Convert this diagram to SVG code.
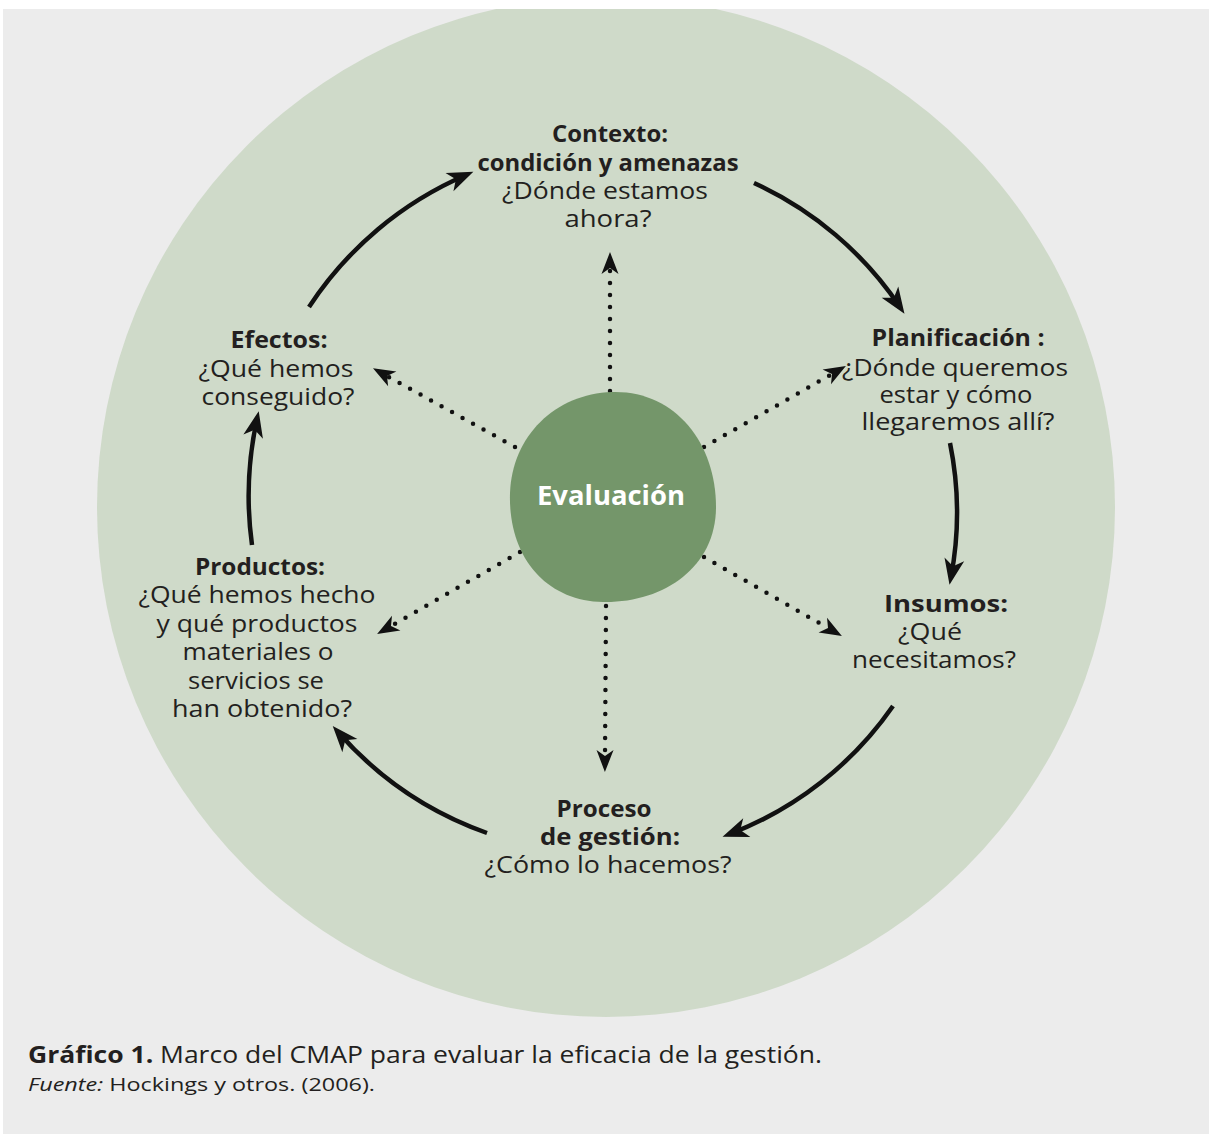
<svg xmlns="http://www.w3.org/2000/svg" width="1209" height="1134" viewBox="0 0 1209 1134">
<defs>
<style>
text{font-family:"Open Sans","Noto Sans","Liberation Sans",sans-serif;fill:#231f20;text-anchor:middle}
.b{font-weight:bold}
.t{font-size:23px}
.solid{fill:none;stroke:#111;stroke-width:4.5;marker-end:url(#ah)}
.dot{fill:none;stroke:#111;stroke-width:4.5;stroke-linecap:round;stroke-dasharray:0 12;marker-end:url(#ah2)}
.cap{text-anchor:start}
</style>
<marker id="ah" viewBox="-2 -12 30 24" markerWidth="30" markerHeight="24" refX="18" refY="0" orient="auto" markerUnits="userSpaceOnUse">
<path d="M0,-10 L26,0 L0,10 L7,0 Z" fill="#111"/>
</marker>
<marker id="ah2" viewBox="-2 -10 26 20" markerWidth="26" markerHeight="20" refX="6" refY="0" orient="auto" markerUnits="userSpaceOnUse">
<path d="M0,-8.5 L22,0 L0,8.5 L6,0 Z" fill="#111"/>
</marker>
<clipPath id="clipTop"><rect x="0" y="9" width="1209" height="1125"/></clipPath>
</defs>
<rect x="0" y="0" width="1209" height="1134" fill="#ffffff"/>
<rect x="3" y="9" width="1206" height="1125" fill="#ececec"/>
<g id="outer-circle">
<ellipse cx="606" cy="507" rx="509" ry="510" fill="#cfdac9" clip-path="url(#clipTop)"/>
</g>

<g id="connectors">
<path class="solid" d="M 309,307 A 356 356 0 0 1 466,175"/>
<path class="solid" d="M 754,183 A 352 352 0 0 1 900,307"/>
<path class="solid" d="M 950,443 A 348 348 0 0 1 951,577"/>
<path class="solid" d="M 893,706 A 352 352 0 0 1 730,834"/>
<path class="solid" d="M 487,833 A 357 357 0 0 1 338,732"/>
<path class="solid" d="M 252,545 A 360 360 0 0 1 257,419"/>
<path class="dot" d="M 610,391 L 610,268"/>
<path class="dot" d="M 606,606 L 605,756"/>
<path class="dot" d="M 515,447 L 387,376"/>
<path class="dot" d="M 704,447 L 832,374"/>
<path class="dot" d="M 520,552 L 391,626"/>
<path class="dot" d="M 704,557 L 828,628"/>
</g>

<g id="evaluacion">
<path d="M 612,392 C 674,390 716,442 716,507 C 716,567 664,603 603,602 C 545,601 508,556 510,493 C 512,436 555,394 612,392 Z" fill="#74966a"/>
<text x="611" y="505" class="b" style="font-size:26px;fill:#ffffff" textLength="148" lengthAdjust="spacingAndGlyphs">Evaluación</text>
</g>

<g id="contexto">
<text x="610" y="142" class="b t" textLength="116" lengthAdjust="spacingAndGlyphs">Contexto:</text>
<text x="608" y="171" class="b t" textLength="261" lengthAdjust="spacingAndGlyphs">condición y amenazas</text>
<text x="605" y="199" class="t" textLength="206" lengthAdjust="spacingAndGlyphs">¿Dónde estamos</text>
<text x="608" y="227" class="t" textLength="87" lengthAdjust="spacingAndGlyphs">ahora?</text>
</g>

<g id="planificacion">
<text x="958" y="346" class="b t" textLength="173" lengthAdjust="spacingAndGlyphs">Planificación :</text>
<text x="955" y="376" class="t" textLength="226" lengthAdjust="spacingAndGlyphs">¿Dónde queremos</text>
<text x="956" y="403" class="t" textLength="153" lengthAdjust="spacingAndGlyphs">estar y cómo</text>
<text x="958" y="430" class="t" textLength="193" lengthAdjust="spacingAndGlyphs">llegaremos allí?</text>
</g>

<g id="insumos">
<text x="946" y="612" class="b t" textLength="124" lengthAdjust="spacingAndGlyphs">Insumos:</text>
<text x="930" y="640" class="t" textLength="64" lengthAdjust="spacingAndGlyphs">¿Qué</text>
<text x="934" y="668" class="t" textLength="164" lengthAdjust="spacingAndGlyphs">necesitamos?</text>
</g>

<g id="proceso">
<text x="604" y="817" class="b t" textLength="95" lengthAdjust="spacingAndGlyphs">Proceso</text>
<text x="610" y="845" class="b t" textLength="140" lengthAdjust="spacingAndGlyphs">de gestión:</text>
<text x="608" y="873" class="t" textLength="247" lengthAdjust="spacingAndGlyphs">¿Cómo lo hacemos?</text>
</g>

<g id="productos">
<text x="260" y="575" class="b t" textLength="130" lengthAdjust="spacingAndGlyphs">Productos:</text>
<text x="257" y="603" class="t" textLength="237" lengthAdjust="spacingAndGlyphs">¿Qué hemos hecho</text>
<text x="257" y="632" class="t" textLength="201" lengthAdjust="spacingAndGlyphs">y qué productos</text>
<text x="258" y="660" class="t" textLength="151" lengthAdjust="spacingAndGlyphs">materiales o</text>
<text x="256" y="689" class="t" textLength="136" lengthAdjust="spacingAndGlyphs">servicios se</text>
<text x="262" y="717" class="t" textLength="180" lengthAdjust="spacingAndGlyphs">han obtenido?</text>
</g>

<g id="efectos">
<text x="279" y="348" class="b t" textLength="97" lengthAdjust="spacingAndGlyphs">Efectos:</text>
<text x="276" y="377" class="t" textLength="155" lengthAdjust="spacingAndGlyphs">¿Qué hemos</text>
<text x="278" y="405" class="t" textLength="153" lengthAdjust="spacingAndGlyphs">conseguido?</text>
</g>

<g id="caption">
<text x="28" y="1063" class="cap" style="font-size:23px" textLength="794" lengthAdjust="spacingAndGlyphs"><tspan font-weight="bold">Gráfico 1.</tspan> Marco del CMAP para evaluar la eficacia de la gestión.</text>
<text x="28" y="1091" class="cap" style="font-size:19px" textLength="347" lengthAdjust="spacingAndGlyphs"><tspan font-style="italic">Fuente:</tspan> Hockings y otros. (2006).</text>
</g>
</svg>
